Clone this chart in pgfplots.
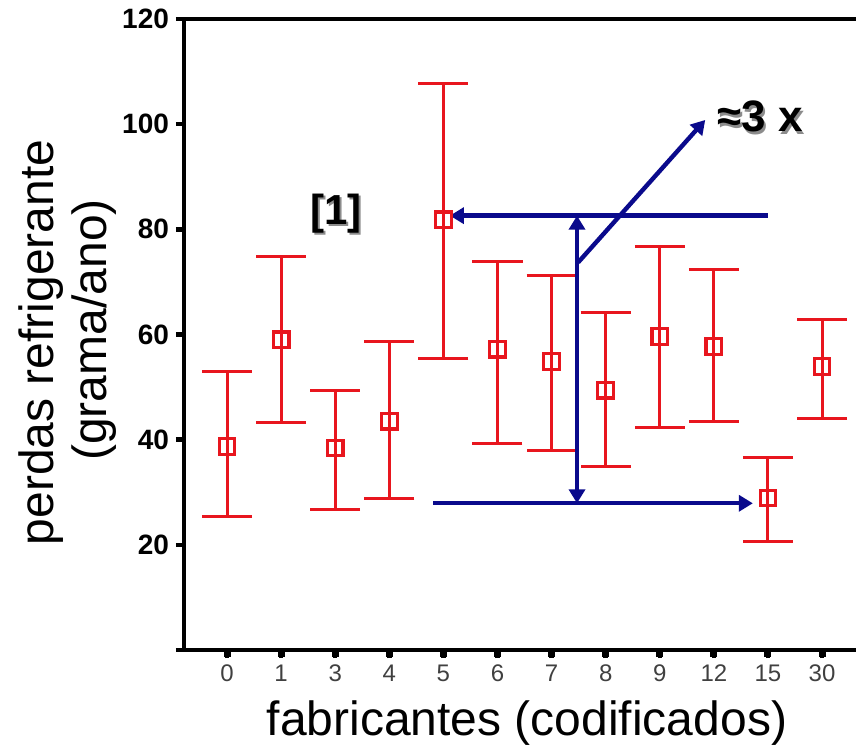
\documentclass[border=0pt]{standalone}
\usepackage{pgfplots}
\pgfplotsset{compat=1.18}
\usepackage{pgfplotstable}
\usepackage{fontspec}
\setmainfont{Liberation Sans}
\usetikzlibrary{arrows.meta}
\definecolor{ebred}{RGB}{232,22,30}
\definecolor{arrblue}{RGB}{10,10,140}
\pgfplotstableread{
x y ep em
0 38.7 14.3 13.4
1 59.0 15.8 15.7
2 38.4 11.0 11.6
3 43.5 15.2 14.6
4 81.8 26.0 26.4
5 57.2 16.7 17.9
6 54.9 16.3 16.9
7 49.4 14.8 14.5
8 59.6 17.1 17.3
9 57.7 14.6 14.2
10 28.9 7.7 8.2
11 53.9 8.9 9.9
}\data
\begin{document}
\begin{tikzpicture}
\begin{axis}[
  scale only axis, width=336pt, height=315.5pt,
  xmin=-0.795, xmax=11.627, ymin=0, ymax=120,
  clip=false,
  axis x line*=box, axis y line*=left,
  axis line style={line width=1.8pt, -},
  /pgf/number format/assume math mode=true,
  xtick pos=bottom, ytick pos=left,
  xtick align=outside, ytick align=outside,
  major tick length=4pt,
  xtick={0,...,11},
  xticklabels={0,1,3,4,5,6,7,8,9,12,15,30},
  ytick={0,20,...,120},
  yticklabels={,20,40,60,80,100,120},
  every tick/.style={black, line width=2.2pt},
  xticklabel style={font=\fontsize{12}{12}\selectfont, text=black!75},
  yticklabel style={font=\bfseries\fontsize{14}{14}\selectfont},
  xlabel={fabricantes (codificados)},
  xlabel style={at={(axis description cs:0.5,0)}, anchor=base, yshift=-42.5pt, xshift=3.5pt, font=\fontsize{24}{24}\selectfont},
]
\pgfplotsinvokeforeach{0,...,11}{
  \draw[black, line width=3.5pt] (axis cs:#1,0) -- (axis cs:#1,-1.4);
}
\pgfplotsinvokeforeach{0,20,40,60,80,100,120}{
  \draw[black, line width=1.7pt] (axis cs:-0.795,#1) -- (axis cs:-0.905,#1);
}
\addplot[ebred, line width=1.5pt, only marks, mark=square, mark size=3.9pt,
  mark options={fill=white, line width=1.6pt},
  error bars/.cd, y dir=both, y explicit,
  error bar style={line width=1.5pt, ebred},
  error mark options={rotate=90, mark size=12.5pt, line width=1.5pt, ebred}]
  table[x=x, y=y, y error plus=ep, y error minus=em] {\data};
\draw[arrblue, line width=2.2pt, -{Triangle[length=7pt,width=8pt]}] (axis cs:10.0,82.6) -- (axis cs:4.12,82.6);
\draw[arrblue, line width=2.2pt, {Triangle[length=7pt,width=8pt]}-{Triangle[length=7pt,width=8pt]}] (axis cs:6.47,27.9) -- (axis cs:6.47,82.6);
\draw[arrblue, line width=2.2pt, -{Triangle[length=7pt,width=8pt]}] (axis cs:3.81,27.9) -- (axis cs:9.72,27.9);
\draw[arrblue, line width=2.2pt, -{Triangle[length=7pt,width=8pt]}] (axis cs:6.49,73.7) -- (axis cs:8.84,100.8);
\node[font=\bfseries\fontsize{21}{21}\selectfont, text=black!45] at ([xshift=1.2pt,yshift=-1.2pt]axis cs:2.01,83.0) {[1]};
\node[font=\bfseries\fontsize{21}{21}\selectfont] at (axis cs:2.01,83.0) {[1]};
\node[font=\bfseries\fontsize{22}{22}\selectfont, text=black!45] at ([xshift=1.2pt,yshift=-1.2pt]axis cs:9.85,101.4) {≈3 x};
\node[font=\bfseries\fontsize{22}{22}\selectfont] at (axis cs:9.85,101.4) {≈3 x};
\end{axis}
\node[rotate=90, anchor=base, font=\fontsize{24}{24}\selectfont] at (-65pt,153.75pt) {perdas refrigerante};
\node[rotate=90, anchor=base, font=\fontsize{24}{24}\selectfont] at (-39pt,160pt) {(grama/ano)};
\pgfresetboundingbox
\path (-92pt,-47.5pt) rectangle (336pt,325pt);
\end{tikzpicture}
\end{document}
